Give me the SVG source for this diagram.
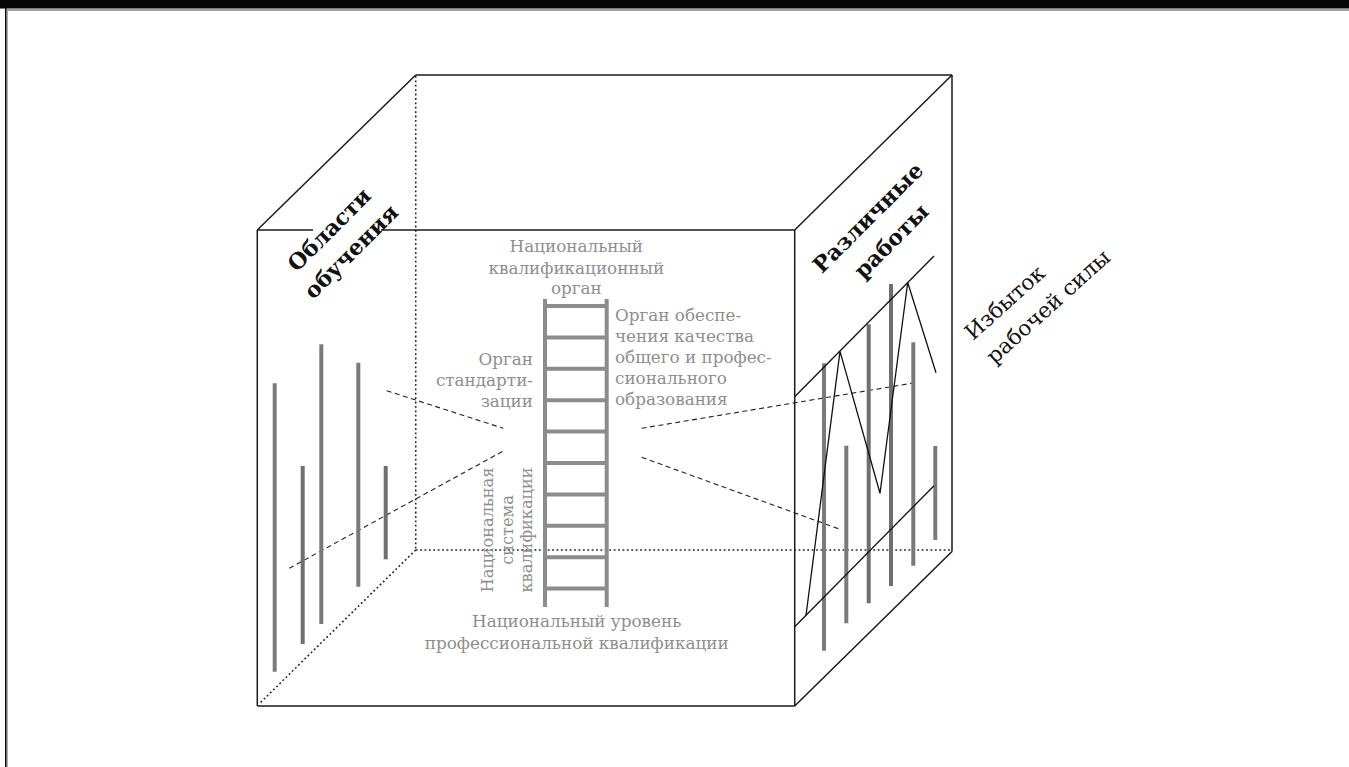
<svg xmlns="http://www.w3.org/2000/svg" width="1349" height="767" viewBox="0 0 1349 767">
  <style>
    .edge { stroke: #1a1a1a; stroke-width: 1.5; fill: none; }
    .dots { stroke: #222; stroke-width: 1.6; fill: none; stroke-dasharray: 1.8 2.6; }
    .dash { stroke: #222; stroke-width: 1.1; fill: none; stroke-dasharray: 5 3.5; }
    .thin { stroke: #111; stroke-width: 1.3; fill: none; }
    .bar { stroke: #6f6f6f; stroke-width: 4; }
    .bar2 { stroke: #7a7a7a; stroke-width: 4; }
    .rail { stroke: #8c8c8c; stroke-width: 4; fill: none; }
    .gray { font-family: "DejaVu Serif", "Liberation Serif", serif; font-size: 16.8px; fill: #8e8e8e; }
    .vert { font-size: 16.2px; }
    .label { font-family: "DejaVu Serif", "Liberation Serif", serif; font-size: 22px; font-weight: bold; fill: #111; }
    .side { font-family: "DejaVu Serif", "Liberation Serif", serif; font-size: 21.5px; fill: #111; }
  </style>

  <rect width="1349" height="767" fill="#fff"/>

  <!-- page frame -->
  <g id="frame">
    <rect x="0" y="0" width="1349" height="8" fill="#050505"/>
    <line x1="0" y1="8.5" x2="1349" y2="8.5" stroke="#7a7a7a" stroke-width="1"/>
    <line x1="7" y1="10" x2="1349" y2="10" stroke="#444" stroke-width="1"/>
    <line x1="5.8" y1="8" x2="5.8" y2="767" stroke="#050505" stroke-width="1.6"/>
    <line x1="7.3" y1="10" x2="7.3" y2="767" stroke="#999" stroke-width="1"/>
  </g>

  <!-- hidden cube edges -->
  <g id="hidden-edges">
    <line class="dots" x1="415.7" y1="76" x2="415.7" y2="550"/>
    <line class="dots" x1="415.7" y1="550" x2="952" y2="550"/>
    <line class="dots" x1="415.7" y1="550" x2="259" y2="704"/>
  </g>

  <!-- visible cube edges -->
  <g id="cube">
    <line class="edge" x1="415.7" y1="75" x2="952" y2="75" stroke="#333"/>
    <line class="edge" x1="415.7" y1="75" x2="257.3" y2="230"/>
    <line class="edge" x1="952" y1="75" x2="794.7" y2="230"/>
    <line class="edge" x1="952" y1="75" x2="952" y2="551.5"/>
    <line class="edge" x1="952" y1="551.5" x2="794.7" y2="706"/>
    <line class="edge" x1="257.3" y1="230" x2="313" y2="230"/>
    <line class="edge" x1="381" y1="230" x2="794.7" y2="230"/>
    <line class="edge" x1="257.3" y1="230" x2="257.3" y2="706"/>
    <line class="edge" x1="257.3" y1="706" x2="794.7" y2="706"/>
    <line class="edge" x1="794.7" y1="230" x2="794.7" y2="706"/>
  </g>

  <!-- connectors: perspective lines -->
  <g id="connectors">
    <line class="dash" x1="386.7" y1="390.7" x2="503.3" y2="428.3"/>
    <line class="dash" x1="289.3" y1="568.3" x2="503.3" y2="451"/>
    <line class="dash" x1="641.7" y1="428.3" x2="911.7" y2="383.3"/>
    <line class="dash" x1="641.7" y1="457.3" x2="840" y2="529.3"/>
  </g>

  <!-- fields of study -->
  <g id="study-bars">
    <line class="bar2" x1="274.7" y1="383.3" x2="274.7" y2="671.7"/>
    <line class="bar" x1="302.7" y1="466" x2="302.7" y2="644"/>
    <line class="bar2" x1="321.3" y1="344.3" x2="321.3" y2="624"/>
    <line class="bar2" x1="358.3" y1="362.7" x2="358.3" y2="586.7"/>
    <line class="bar" x1="385.7" y1="466" x2="385.7" y2="559.3"/>
  </g>

  <!-- jobs -->
  <g id="job-bars">
    <line class="bar2" x1="824" y1="363.3" x2="824" y2="650.7"/>
    <line class="bar2" x1="846.3" y1="445.7" x2="846.3" y2="623.3"/>
    <line class="bar" x1="868.7" y1="324.3" x2="868.7" y2="603.3"/>
    <line class="bar" x1="891" y1="284" x2="891" y2="586"/>
    <line class="bar2" x1="913.3" y1="342.3" x2="913.3" y2="565.7"/>
    <line class="bar2" x1="935.3" y1="446" x2="935.3" y2="540"/>
  </g>

  <!-- labour surplus band -->
  <g id="surplus">
    <line class="thin" x1="794.7" y1="396.7" x2="934" y2="256"/>
    <line class="thin" x1="794.7" y1="626.7" x2="934" y2="485.7"/>
    <polyline class="thin" points="806,615.5 840,351.4 880,493.3 907.7,282.5 936,372.7"/>
  </g>

  <!-- qualification ladder -->
  <g id="ladder">
    <line class="rail" x1="545" y1="299" x2="545" y2="607"/>
    <line class="rail" x1="606.7" y1="299" x2="606.7" y2="607"/>
    <path class="rail" d="M545 306H606.7M545 337.4H606.7M545 368.8H606.7M545 400.2H606.7M545 431.6H606.7M545 463H606.7M545 494.4H606.7M545 525.8H606.7M545 557.2H606.7M545 588.6H606.7"/>
  </g>

  <g id="node-national-body">
    <text class="gray" text-anchor="middle" x="576.3" y="252">Национальный</text>
    <text class="gray" text-anchor="middle" x="576.3" y="273.5">квалификационный</text>
    <text class="gray" text-anchor="middle" x="576.3" y="294">орган</text>
  </g>

  <g id="node-quality-body">
    <text class="gray" x="615" y="320.5">Орган обеспе-</text>
    <text class="gray" x="615" y="341.5">чения качества</text>
    <text class="gray" x="615" y="362.5">общего и профес-</text>
    <text class="gray" x="615" y="383.5">сионального</text>
    <text class="gray" x="615" y="404.5">образования</text>
  </g>

  <g id="node-standards-body">
    <text class="gray" text-anchor="end" x="533" y="364.5">Орган</text>
    <text class="gray" text-anchor="end" x="533" y="385.5">стандарти-</text>
    <text class="gray" text-anchor="end" x="533" y="406.5">зации</text>
  </g>

  <g id="node-national-system" transform="translate(0,530) rotate(-90)">
    <text class="gray vert" text-anchor="middle" x="0" y="493.3">Национальная</text>
    <text class="gray vert" text-anchor="middle" x="0" y="512.7">система</text>
    <text class="gray vert" text-anchor="middle" x="0" y="531.7">квалификации</text>
  </g>

  <g id="node-national-level">
    <text class="gray" text-anchor="middle" x="576.7" y="627.3">Национальный уровень</text>
    <text class="gray" text-anchor="middle" x="576.7" y="649.3">профессиональной квалификации</text>
  </g>

  <g id="node-fields" transform="translate(339.5,240) rotate(-45)">
    <text class="label" text-anchor="middle" x="0" y="-7">Области</text>
    <text class="label" text-anchor="middle" x="0" y="24">обучения</text>
  </g>

  <g id="node-jobs" transform="translate(879,228.7) rotate(-45)">
    <text class="label" text-anchor="middle" x="0" y="-8">Различные</text>
    <text class="label" text-anchor="middle" x="0" y="25">работы</text>
  </g>

  <g id="node-surplus" transform="translate(973,341) rotate(-42)">
    <text class="side" x="0" y="0">Избыток</text>
    <text class="side" x="0" y="32">рабочей силы</text>
  </g>
</svg>
